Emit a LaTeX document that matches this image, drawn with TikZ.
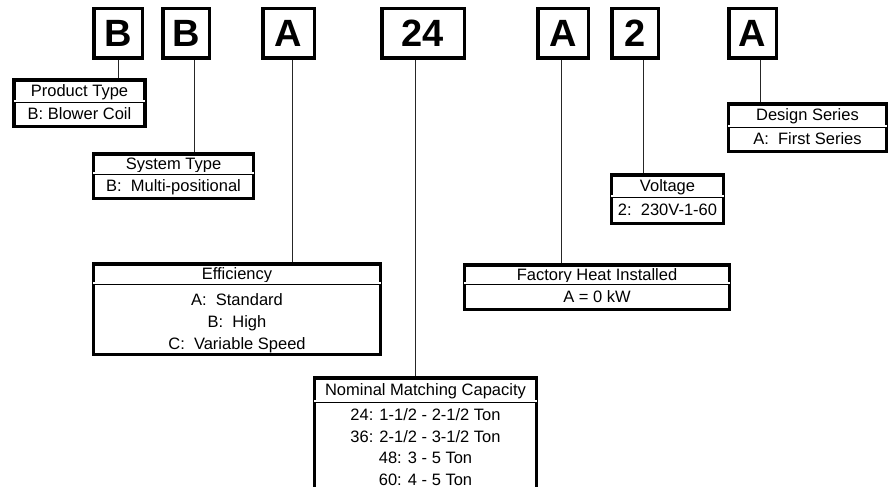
\documentclass[tikz,border=0pt]{standalone}
\usepackage{fontspec}
\setmainfont{Liberation Sans}
\usetikzlibrary{positioning}

\begin{document}
\begin{tikzpicture}[x=1pt,y=-1pt,
  letterbox/.style={draw, line width=3.5pt, inner sep=0pt, minimum height=49.5,
    font=\fontsize{38}{40}\selectfont\bfseries},
  hdr/.style={inner sep=0pt, text height=12pt, text depth=0pt, font=\fontsize{16.5}{22}\selectfont},
  bdy/.style={inner sep=0pt, text height=12pt, text depth=0pt, font=\fontsize{16.5}{22}\selectfont},
  bdylist/.style={inner sep=0pt, align=center, font=\fontsize{16.5}{22}\selectfont},
  frame/.style={draw, line width=3.5pt},
  sepline/.style={double, line width=0.9pt, double distance=1.6pt},
  link/.style={line width=0.9pt, black!85}]
\clip (0,0) rectangle (889,487);

\node[letterbox, minimum width=48.5] (b1) at (118,33.5) {B};
\node[letterbox, minimum width=46.5] (b2) at (186,33.5) {B};
\node[letterbox, minimum width=51.5] (a1) at (288.5,33.5) {A};
\node[letterbox, minimum width=82.5] (cap) at (423,33.5) {24};
\node[letterbox, minimum width=50.5] (a2) at (563,33.5) {A};
\node[letterbox, minimum width=46.5] (v2) at (635,33.5) {2};
\node[letterbox, minimum width=47.5] (a3) at (752.5,33.5) {A};

\node[hdr, minimum width=131, minimum height=21] (prodh) at (79.5,90.5) {Product Type};
\node[bdy, minimum width=131, minimum height=25, below=0pt of prodh] (prodb) {B: Blower Coil};

\node[hdr, minimum width=160, minimum height=19] (sysh) at (173.5,163.5) {System Type};
\node[bdy, minimum width=160, minimum height=25, below=0pt of sysh] (sysb) {B:\ \ Multi-positional};

\node[hdr, minimum width=287, minimum height=19] (effh) at (237,273.5) {Efficiency};
\node[bdylist, minimum width=287, minimum height=71, below=0pt of effh] (effb) {\rule{0pt}{20pt}A:\ \ Standard\\B:\ \ High\\C:\ \ Variable Speed};

\node[hdr, minimum width=222, minimum height=23] (nomh) at (425.5,389.5) {Nominal Matching Capacity};
\node[bdylist, minimum width=222, minimum height=89, below=0pt of nomh,
  font=\fontsize{16.5}{21.5}\selectfont] (nomb) {\rule{0pt}{14pt}24: 1-1/2 - 2-1/2 Ton\\36: 2-1/2 - 3-1/2 Ton\\48: 3 - 5 Ton\\60: 4 - 5 Ton};

\node[hdr, minimum width=265, minimum height=18] (heath) at (597,274) {Factory Heat Installed};
\node[bdy, minimum width=265, minimum height=26, below=0pt of heath] (heatb) {A = 0 kW};

\node[hdr, minimum width=112, minimum height=21] (volth) at (667.5,185.5) {Voltage};
\node[bdy, minimum width=112, minimum height=27, below=0pt of volth] (voltb) {2:\ \ 230V-1-60};

\node[hdr, minimum width=158, minimum height=22] (desh) at (807.5,115) {Design Series};
\node[bdy, minimum width=158, minimum height=25, below=0pt of desh] (desb) {A:\ \ First Series};

\draw[link] (b1.south) -- (b1.south |- prodh.north);
\draw[link] ([xshift=8]b2.south) -- ([xshift=8]b2.south |- sysh.north);
\draw[link] ([xshift=3.5]a1.south) -- ([xshift=3.5]a1.south |- effh.north);
\draw[link] ([xshift=-8]cap.south) -- ([xshift=-8]cap.south |- nomh.north);
\draw[link] ([xshift=-2]a2.south) -- ([xshift=-2]a2.south |- heath.north);
\draw[link] ([xshift=8]v2.south) -- ([xshift=8]v2.south |- volth.north);
\draw[link] ([xshift=7.5]a3.south) -- ([xshift=7.5]a3.south |- desh.north);

\foreach \bx in {prod,sys,eff,nom,heat,volt,des}{
  \draw[frame] (\bx h.north west) rectangle (\bx b.south east);
  \draw[sepline] (\bx h.south west) -- (\bx h.south east);
}
\end{tikzpicture}
\end{document}
